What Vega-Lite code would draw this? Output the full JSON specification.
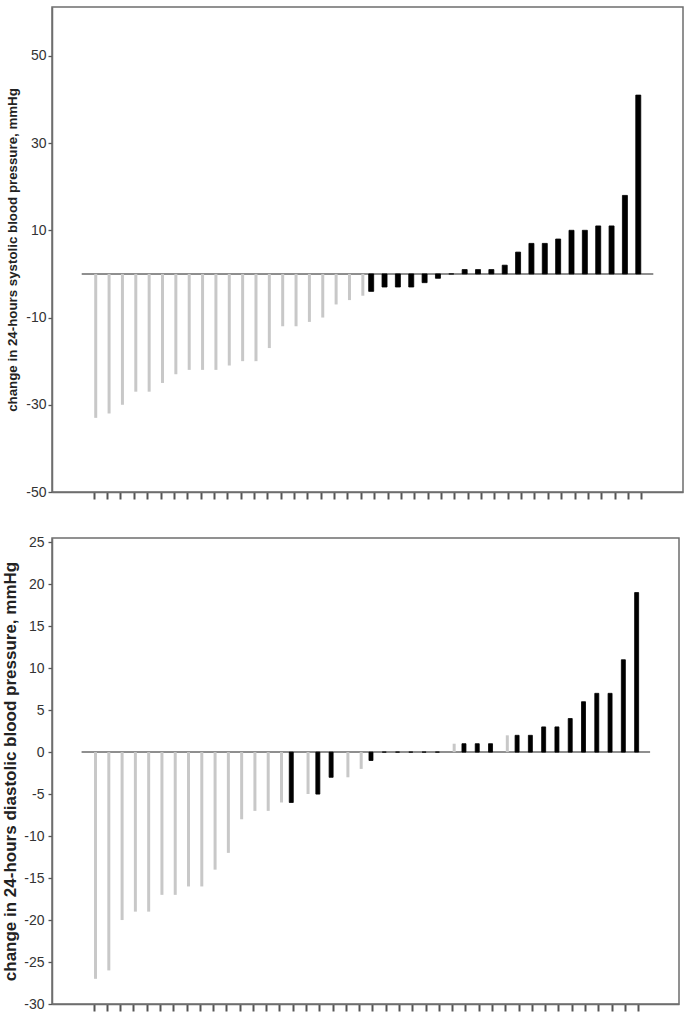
{
  "$schema": "https://vega.github.io/schema/vega-lite/v6.json",
  "padding": {"left": 0, "top": 6, "right": 0, "bottom": 5},
  "background": "white",
  "datasets": {
    "sys": [
      {"i": 1, "change": -33, "group": "1"},
      {"i": 2, "change": -32, "group": "1"},
      {"i": 3, "change": -30, "group": "1"},
      {"i": 4, "change": -27, "group": "1"},
      {"i": 5, "change": -27, "group": "1"},
      {"i": 6, "change": -25, "group": "1"},
      {"i": 7, "change": -23, "group": "1"},
      {"i": 8, "change": -22, "group": "1"},
      {"i": 9, "change": -22, "group": "1"},
      {"i": 10, "change": -22, "group": "1"},
      {"i": 11, "change": -21, "group": "1"},
      {"i": 12, "change": -20, "group": "1"},
      {"i": 13, "change": -20, "group": "1"},
      {"i": 14, "change": -17, "group": "1"},
      {"i": 15, "change": -12, "group": "1"},
      {"i": 16, "change": -12, "group": "1"},
      {"i": 17, "change": -11, "group": "1"},
      {"i": 18, "change": -10, "group": "1"},
      {"i": 19, "change": -7, "group": "1"},
      {"i": 20, "change": -6, "group": "1"},
      {"i": 21, "change": -5, "group": "1"},
      {"i": 22, "change": -4, "group": "2"},
      {"i": 23, "change": -3, "group": "2"},
      {"i": 24, "change": -3, "group": "2"},
      {"i": 25, "change": -3, "group": "2"},
      {"i": 26, "change": -2, "group": "2"},
      {"i": 27, "change": -1, "group": "2"},
      {"i": 28, "change": 0, "group": "2"},
      {"i": 29, "change": 1, "group": "2"},
      {"i": 30, "change": 1, "group": "2"},
      {"i": 31, "change": 1, "group": "2"},
      {"i": 32, "change": 2, "group": "2"},
      {"i": 33, "change": 5, "group": "2"},
      {"i": 34, "change": 7, "group": "2"},
      {"i": 35, "change": 7, "group": "2"},
      {"i": 36, "change": 8, "group": "2"},
      {"i": 37, "change": 10, "group": "2"},
      {"i": 38, "change": 10, "group": "2"},
      {"i": 39, "change": 11, "group": "2"},
      {"i": 40, "change": 11, "group": "2"},
      {"i": 41, "change": 18, "group": "2"},
      {"i": 42, "change": 41, "group": "2"}
    ],
    "dia": [
      {"i": 1, "change": -27, "group": "1"},
      {"i": 2, "change": -26, "group": "1"},
      {"i": 3, "change": -20, "group": "1"},
      {"i": 4, "change": -19, "group": "1"},
      {"i": 5, "change": -19, "group": "1"},
      {"i": 6, "change": -17, "group": "1"},
      {"i": 7, "change": -17, "group": "1"},
      {"i": 8, "change": -16, "group": "1"},
      {"i": 9, "change": -16, "group": "1"},
      {"i": 10, "change": -14, "group": "1"},
      {"i": 11, "change": -12, "group": "1"},
      {"i": 12, "change": -8, "group": "1"},
      {"i": 13, "change": -7, "group": "1"},
      {"i": 14, "change": -7, "group": "1"},
      {"i": 15, "change": -6, "group": "1"},
      {"i": 16, "change": -6, "group": "2"},
      {"i": 17, "change": -5, "group": "1"},
      {"i": 18, "change": -5, "group": "2"},
      {"i": 19, "change": -3, "group": "2"},
      {"i": 20, "change": -3, "group": "1"},
      {"i": 21, "change": -2, "group": "1"},
      {"i": 22, "change": -1, "group": "2"},
      {"i": 23, "change": 0, "group": "2"},
      {"i": 24, "change": 0, "group": "2"},
      {"i": 25, "change": 0, "group": "2"},
      {"i": 26, "change": 0, "group": "2"},
      {"i": 27, "change": 0, "group": "2"},
      {"i": 28, "change": 1, "group": "1"},
      {"i": 29, "change": 1, "group": "2"},
      {"i": 30, "change": 1, "group": "2"},
      {"i": 31, "change": 1, "group": "2"},
      {"i": 32, "change": 2, "group": "1"},
      {"i": 33, "change": 2, "group": "2"},
      {"i": 34, "change": 2, "group": "2"},
      {"i": 35, "change": 3, "group": "2"},
      {"i": 36, "change": 3, "group": "2"},
      {"i": 37, "change": 4, "group": "2"},
      {"i": 38, "change": 6, "group": "2"},
      {"i": 39, "change": 7, "group": "2"},
      {"i": 40, "change": 7, "group": "2"},
      {"i": 41, "change": 11, "group": "2"},
      {"i": 42, "change": 19, "group": "2"}
    ]
  },
  "config": {
    "font": "Liberation Sans",
    "view": {"stroke": "#6e6e6e", "strokeWidth": 1.5},
    "axis": {
      "grid": false,
      "domainColor": "#6e6e6e",
      "domainWidth": 1.5,
      "tickColor": "#555555",
      "tickWidth": 1.3,
      "labelFont": "Liberation Sans",
      "labelColor": "#333333",
      "titleFont": "Liberation Sans",
      "titleColor": "#222222"
    }
  },
  "columns": 1,
  "align": "none",
  "spacing": 33,
  "concat": [
    {
      "width": 631,
      "height": 485,
      "data": {"name": "sys"},
      "layer": [
        {
          "data": {"values": [{}]},
          "mark": {"type": "rule", "color": "#6a6a6a", "strokeWidth": 1.5},
          "encoding": {
            "x": {"datum": 0.1, "type": "quantitative", "scale": {"domain": [-1.75, 44.75], "nice": false, "zero": false}},
            "x2": {"datum": 42.9},
            "y": {"datum": 0, "type": "quantitative", "scale": {"domain": [-50, 61.2], "nice": false, "zero": false}}
          }
        },
        {
          "transform": [{"filter": "datum.group === '1'"}],
          "mark": {"type": "bar", "size": 3, "xOffset": 2},
          "encoding": {
            "x": {
              "field": "i", "type": "quantitative",
              "scale": {"domain": [-1.75, 44.75], "nice": false, "zero": false},
              "axis": {"values": [1,2,3,4,5,6,7,8,9,10,11,12,13,14,15,16,17,18,19,20,21,22,23,24,25,26,27,28,29,30,31,32,33,34,35,36,37,38,39,40,41,42], "tickCount": 60, "labels": false, "tickSize": 7, "tickWidth": 2, "title": null}
            },
            "y": {
              "field": "change", "type": "quantitative",
              "scale": {"domain": [-50, 61.2], "nice": false, "zero": false},
              "axis": {"values": [-50, -30, -10, 10, 30, 50], "tickCount": 20, "labelExpr": "'' + datum.value", "title": "change in 24-hours systolic blood pressure, mmHg", "titleFontSize": 13.3, "titleFontWeight": "bold", "labelFontSize": 14, "tickSize": 4, "labelPadding": 2, "titlePadding": 6}
            },
            "y2": {"datum": 0},
            "color": {"field": "group", "type": "nominal", "scale": {"domain": ["1", "2"], "range": ["#c8c8c8", "#000000"]}, "legend": null}
          }
        },
        {
          "transform": [{"filter": "datum.group === '2'"}],
          "mark": {"type": "bar", "size": 5, "xOffset": -3, "strokeWidth": 0.8},
          "encoding": {
            "x": {"field": "i", "type": "quantitative"},
            "y": {"field": "change", "type": "quantitative"},
            "y2": {"datum": 0},
            "color": {"field": "group", "type": "nominal", "legend": null},
            "stroke": {"field": "group", "type": "nominal", "scale": {"domain": ["1", "2"], "range": ["#c8c8c8", "#000000"]}, "legend": null}
          }
        }
      ]
    },
    {
      "width": 627,
      "height": 466,
      "data": {"name": "dia"},
      "layer": [
        {
          "data": {"values": [{}]},
          "mark": {"type": "rule", "color": "#6a6a6a", "strokeWidth": 1.5},
          "encoding": {
            "x": {"datum": 0.1, "type": "quantitative", "scale": {"domain": [-1.75, 44.7], "nice": false, "zero": false}},
            "x2": {"datum": 42.9},
            "y": {"datum": 0, "type": "quantitative", "scale": {"domain": [-30, 25.5], "nice": false, "zero": false}}
          }
        },
        {
          "transform": [{"filter": "datum.group === '1'"}],
          "mark": {"type": "bar", "size": 3, "xOffset": 2},
          "encoding": {
            "x": {
              "field": "i", "type": "quantitative",
              "scale": {"domain": [-1.75, 44.7], "nice": false, "zero": false},
              "axis": {"values": [1,2,3,4,5,6,7,8,9,10,11,12,13,14,15,16,17,18,19,20,21,22,23,24,25,26,27,28,29,30,31,32,33,34,35,36,37,38,39,40,41,42], "tickCount": 60, "labels": false, "tickSize": 7, "tickWidth": 2, "title": null}
            },
            "y": {
              "field": "change", "type": "quantitative",
              "scale": {"domain": [-30, 25.5], "nice": false, "zero": false},
              "axis": {"values": [-30, -25, -20, -15, -10, -5, 0, 5, 10, 15, 20, 25], "tickCount": 20, "labelExpr": "'' + datum.value", "title": "change in 24-hours diastolic blood pressure, mmHg", "titleFontSize": 17, "titleFontWeight": "bold", "labelFontSize": 14, "tickSize": 4, "labelPadding": 4, "titlePadding": 4.5}
            },
            "y2": {"datum": 0},
            "color": {"field": "group", "type": "nominal", "scale": {"domain": ["1", "2"], "range": ["#c8c8c8", "#000000"]}, "legend": null}
          }
        },
        {
          "transform": [{"filter": "datum.group === '2'"}],
          "mark": {"type": "bar", "size": 4, "xOffset": -1.5, "strokeWidth": 0.8},
          "encoding": {
            "x": {"field": "i", "type": "quantitative"},
            "y": {"field": "change", "type": "quantitative"},
            "y2": {"datum": 0},
            "color": {"field": "group", "type": "nominal", "legend": null},
            "stroke": {"field": "group", "type": "nominal", "scale": {"domain": ["1", "2"], "range": ["#c8c8c8", "#000000"]}, "legend": null}
          }
        }
      ]
    }
  ]
}
